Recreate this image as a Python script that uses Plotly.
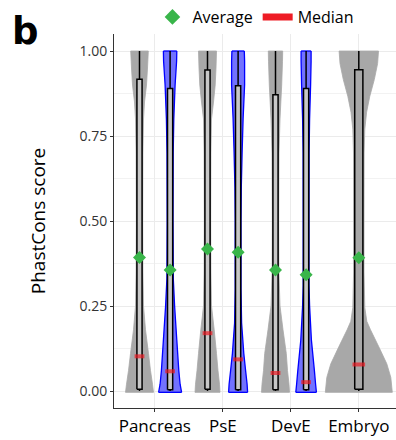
import plotly.graph_objects as go

# ---------------- data ----------------
categories = ["Pancreas", "PsE", "DevE", "Embryo"]
violin_category = [1, 1, 2, 2, 3, 3, 4]          # category index of each violin
violin_subset = ["all", "sel", "all", "sel", "all", "sel", "all"]

q1_vals = [0.005, 0.004, 0.005, 0.004, 0.004, 0.004, 0.005]
median_vals = [0.102, 0.058, 0.170, 0.093, 0.053, 0.026, 0.078]
q3_vals = [0.917, 0.890, 0.944, 0.898, 0.871, 0.890, 0.945]
lower_vals = [0.0, 0.0, 0.0, 0.0, 0.0, 0.0, 0.0]
upper_vals = [1.0, 1.0, 1.0, 1.0, 1.0, 1.0, 1.0]
mean_vals = [0.393, 0.356, 0.418, 0.408, 0.356, 0.342, 0.392]

# violin outlines: score levels and relative half-widths (density)
pancreas_all_y = [-0.004, 0.02, 0.06, 0.11, 0.18, 0.25, 0.35, 0.5, 0.7, 0.8, 0.85, 0.9, 0.95, 1.0]
pancreas_all_d = [14, 13, 11, 9, 6, 4, 3.4, 3.2, 3.4, 4, 5, 7, 8, 8.8]
pancreas_sel_y = [-0.004, 0.02, 0.06, 0.15, 0.25, 0.33, 0.5, 0.7, 0.8, 0.9, 0.97, 1.0]
pancreas_sel_d = [11.5, 10, 8.7, 6.7, 4.5, 3.2, 2.9, 3.1, 3.7, 5, 6.5, 6.7]
pse_all_y = [-0.004, 0.02, 0.06, 0.11, 0.18, 0.25, 0.35, 0.5, 0.7, 0.8, 0.85, 0.9, 0.95, 1.0]
pse_all_d = [12.5, 12, 10.5, 9, 6.7, 4, 3.4, 3.2, 3.4, 4, 6, 7.7, 8.5, 9]
pse_sel_y = [-0.004, 0.02, 0.06, 0.11, 0.2, 0.3, 0.5, 0.6, 0.7, 0.8, 0.9, 0.97, 1.0]
pse_sel_d = [9.5, 9, 7.5, 5.7, 3.5, 2.9, 2.9, 3.2, 4, 5, 6.5, 6.5, 6.2]
deve_all_y = [-0.004, 0.02, 0.06, 0.11, 0.18, 0.25, 0.35, 0.5, 0.7, 0.8, 0.9, 0.97, 1.0]
deve_all_d = [14, 13.5, 12, 10.8, 7.5, 4.5, 3.4, 3.2, 3.5, 4.5, 6.2, 7, 7.2]
deve_sel_y = [-0.004, 0.02, 0.06, 0.15, 0.25, 0.31, 0.5, 0.7, 0.8, 0.9, 0.97, 1.0]
deve_sel_d = [10.3, 9.5, 8.3, 5.3, 3.5, 2.9, 2.9, 3.0, 3.5, 4.5, 5, 5]
embryo_all_y = [-0.004, 0.04, 0.08, 0.13, 0.18, 0.205, 0.245, 0.35, 0.5, 0.7, 0.77, 0.82, 0.867, 0.916, 0.963, 1.0]
embryo_all_d = [33.5, 32, 28, 20, 11.7, 8, 6, 5.2, 5.2, 5.3, 6, 7.8, 11, 15.5, 18.8, 19.7]

profiles_y = [pancreas_all_y, pancreas_sel_y, pse_all_y, pse_sel_y, deve_all_y, deve_sel_y, embryo_all_y]
profiles_d = [pancreas_all_d, pancreas_sel_d, pse_all_d, pse_sel_d, deve_all_d, deve_sel_d, embryo_all_d]

# ---------------- styling ----------------
DENSITY_SCALE = 68.0      # density units per category step
DODGE = 0.225
BOX_HALF_NARROW = 0.038
BOX_HALF_WIDE = 0.06
GRAY = "#a8a8a8"
BLUE = "#0000ff"
RED = "#ee1c25"
GREEN = "#39b54a"
FONT = "Open Sans"

positions = []
for cat, sub in zip(violin_category, violin_subset):
    if violin_category.count(cat) == 1:
        positions.append(cat)
    else:
        positions.append(cat - DODGE if sub == "all" else cat + DODGE)

fig = go.Figure()

# violins: left edge, then right edge filled horizontally to the left edge
for pos, sub, ys, ds in zip(positions, violin_subset, profiles_y, profiles_d):
    hw = [d / DENSITY_SCALE for d in ds]
    if sub == "all":
        fillc, linec, lw = GRAY, GRAY, 0.8
    else:
        fillc, linec, lw = "rgba(20,20,255,0.6)", BLUE, 1.3
    fig.add_trace(go.Scatter(x=[pos - w for w in hw], y=ys, mode="lines",
                             line=dict(color=linec, width=lw, simplify=False),
                             showlegend=False, hoverinfo="skip"))
    fig.add_trace(go.Scatter(x=[pos + w for w in hw], y=ys, mode="lines",
                             fill="tonextx", fillcolor=fillc,
                             line=dict(color=linec, width=lw, simplify=False),
                             showlegend=False, hoverinfo="skip"))
    # flat base and top of the trimmed violin
    for k in (0, -1):
        fig.add_trace(go.Scatter(x=[pos - hw[k], pos + hw[k]], y=[ys[k], ys[k]], mode="lines",
                                 line=dict(color=linec, width=lw),
                                 showlegend=False, hoverinfo="skip"))

# boxes + whiskers
for pos, cat, a, b, lo, hi in zip(positions, violin_category, q1_vals, q3_vals,
                                  lower_vals, upper_vals):
    single = violin_category.count(cat) == 1
    h = BOX_HALF_WIDE if single else BOX_HALF_NARROW
    fig.add_trace(go.Scatter(x=[pos, pos], y=[b, hi], mode="lines",
                             line=dict(color="black", width=1.5),
                             showlegend=False, hoverinfo="skip"))
    fig.add_trace(go.Scatter(x=[pos, pos], y=[lo, a], mode="lines",
                             line=dict(color="black", width=1.5),
                             showlegend=False, hoverinfo="skip"))
    fig.add_trace(go.Scatter(x=[pos - h, pos + h, pos + h, pos - h, pos - h],
                             y=[a, a, b, b, a], mode="lines", fill="toself",
                             fillcolor=GRAY if single else "#c8c8c8",
                             line=dict(color="black", width=1.5, simplify=False),
                             showlegend=False, hoverinfo="skip"))

fig.add_trace(go.Scatter(x=positions, y=median_vals, mode="markers",
                         marker=dict(symbol="line-ew",
                                     size=[9 if violin_category.count(c) == 1 else 7 for c in violin_category],
                                     line=dict(color=RED, width=4)),
                         showlegend=False, hoverinfo="skip"))
fig.add_trace(go.Scatter(x=positions, y=mean_vals, mode="markers",
                         marker=dict(symbol="diamond", size=10, color=GREEN),
                         showlegend=False, hoverinfo="skip"))

# legend entries
fig.add_trace(go.Scatter(x=[None], y=[None], mode="lines", name="Median",
                         line=dict(color=RED, width=7)))
fig.add_trace(go.Scatter(x=[None], y=[None], mode="markers", name="Average",
                         marker=dict(symbol="diamond", size=12, color=GREEN)))

axis_common = dict(showline=True, linecolor="#333333", linewidth=1, ticks="outside",
                   ticklen=3, tickcolor="#333333", zeroline=False, showgrid=True,
                   gridcolor="#ebebeb", gridwidth=1)

fig.update_layout(
    width=396, height=440,
    margin=dict(l=114, r=0, t=27, b=32),
    paper_bgcolor="white", plot_bgcolor="white",
    font=dict(family=FONT, color="black"),
    showlegend=True,
    legend=dict(orientation="h", x=0.385, xanchor="left", xref="container",
                y=1.0, yanchor="top", yref="container",
                font=dict(size=16, color="black"), bgcolor="rgba(0,0,0,0)",
                itemsizing="trace", tracegroupgap=0),
    xaxis=dict(range=[0.4, 4.547], tickvals=[1, 2, 3, 4], ticktext=categories,
               tickfont=dict(size=17, color="black"), **axis_common),
    yaxis=dict(range=[-0.05, 1.05], tickvals=[0, 0.25, 0.5, 0.75, 1.0],
               ticktext=["0.00", "0.25", "0.50", "0.75", "1.00"],
               tickfont=dict(size=14, color="#333333"),
               minor=dict(tickvals=[0.125, 0.375, 0.625, 0.875], showgrid=True,
                          gridcolor="#f2f2f2", gridwidth=1, ticks=""),
               title=dict(text="PhastCons score", font=dict(size=19, color="black"), standoff=28),
               **axis_common),
    annotations=[dict(text="<b>b</b>", xref="paper", yref="paper", x=-0.37, y=1.0708,
                      xanchor="left", yanchor="top", showarrow=False,
                      font=dict(size=37, color="black", family="DejaVu Sans"))],
)

fig.write_html("out.html")
